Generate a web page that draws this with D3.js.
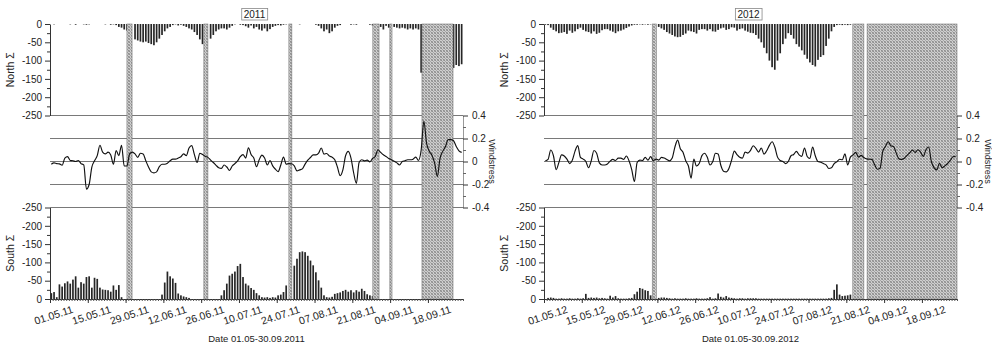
<!DOCTYPE html>
<html><head><meta charset="utf-8">
<script src="https://cdn.jsdelivr.net/npm/d3@7"></script>
<style>
body{margin:0;background:#fff}
svg{display:block}
text{font-family:"Liberation Sans",Arial,sans-serif;fill:#222}
</style>
</head><body>
<svg id="c" width="992" height="351"></svg>
<script>
// ---------------- DATA (day index 0 = 1 May, 153 days to 30 Sep) ----------------
const years = [2011, 2012];
const xTickLabels2011 = ["01.05.11","15.05.11","29.05.11","12.06.11","26.06.11","10.07.11","24.07.11","07.08.11","21.08.11","04.09.11","18.09.11"];
const xTickLabels2012 = ["01.05.12","15.05.12","29.05.12","12.06.12","26.06.12","10.07.12","24.07.12","07.08.12","21.08.12","04.09.12","18.09.12"];
const sumTicks = [0,-50,-100,-150,-200,-250];
const windTicks = [0.4,0.2,0,-0.2,-0.4];

const north2011 = [
0,-1,0,0,0,0,0,-1,0,-2,
0,0,-1,-2,-1,0,0,0,0,0,
-1,0,-2,-1,-3,-8,-10,-15,-18,null,
null,-42,-45,-48,-50,-48,-52,-55,-58,-50,
-40,-30,-20,-12,-8,-3,-1,-4,-2,-5,
-8,-12,-15,-22,-30,-42,-55,null,null,-40,
-30,-20,-15,-12,-12,-15,-10,-5,-1,0,
-2,-3,-6,-10,-4,-12,-8,-15,-18,-12,
-20,-14,-8,-5,-3,-4,-2,-1,null,null,
0,0,-1,0,0,0,0,0,-2,-5,
-12,-20,-15,-25,-20,-10,-5,-3,0,0,
0,-2,-1,-2,0,0,0,0,-2,-4,
null,null,-8,-15,-5,-10,null,-8,-10,-12,
-10,-12,-15,-12,-15,-12,-15,-133,null,null,
null,null,null,null,null,null,null,null,null,-120,
-112,-115,-110];

const south2011 = [
-16,-19,-5,-40,-34,-43,-48,-42,-53,-62,
-31,-46,-42,-60,-62,-31,-58,-55,-31,-26,
-25,-24,-20,-37,-25,-38,-5,0,0,null,
null,0,0,0,0,0,0,0,0,0,
0,-12,-45,-75,-62,-56,-44,-15,-10,-7,
-5,-3,0,0,0,0,0,null,null,0,
0,0,0,-10,-24,-42,-64,-69,-75,-90,
-96,-60,-42,-37,-30,-25,-16,-10,-5,-4,
-5,-3,-5,-4,-10,-12,-19,-37,null,null,
-91,-110,-128,-130,-128,-118,-105,-92,-73,-51,
-31,-10,-5,-4,-6,-14,-16,-18,-22,-25,
-20,-24,-18,-24,-20,-28,-22,-13,-10,-8,
null,null,0,0,0,0,null,0,0,0,
0,0,0,0,0,0,0,0,null,null,
null,null,null,null,null,null,null,null,null,0,
0,0,0];

const north2012 = [
-2,-3,-10,-16,-20,-25,-24,-22,-27,-18,
-24,-20,-14,-10,-16,-20,-22,-26,-20,-27,
-24,-17,-14,-14,-18,-21,-25,-20,-18,-15,
-11,-7,-4,-2,-2,-1,-2,-1,-2,-1,
null,null,-8,-12,-16,-22,-26,-30,-34,-36,
-35,-30,-26,-18,-20,-22,-26,-16,-14,-14,
-18,-14,-20,-21,-16,-12,-10,-16,-14,-9,
-10,-18,-14,-12,-18,-21,-24,-25,-30,-40,
-50,-65,-80,-100,-118,-125,-100,-80,-55,-40,
-25,-30,-40,-55,-62,-72,-84,-95,-105,-112,
-116,-98,-90,-85,-60,-40,-20,-8,-3,-2,
-3,-2,-3,-2,null,null,null,null,null,null,
null,null,null,null,null,null,null,null,null,null,
null,null,null,null,null,null,null,null,null,null,
null,null,null,null,null,null,null,null,null,null,
null,null,null];

const south2012 = [
0,-3,-4,-3,-1,-1,-2,-1,-1,-2,
-1,-1,-2,-1,-2,-14,-3,-4,-3,-4,
-2,-3,-2,-1,-9,-4,-8,-2,-1,-1,
-1,-2,-3,-13,-20,-30,-28,-24,-22,-10,
null,null,-3,-4,-4,-3,-2,-1,-2,-1,
-1,-1,-2,-1,-1,-1,-2,-1,-1,-1,
-2,-5,-1,-2,-15,-6,-4,-8,-4,-3,
-2,-1,-2,-2,-1,-2,-2,-2,-2,-1,
-1,-1,-1,-1,-1,-1,-1,-1,-1,-1,
-1,-1,-1,-1,-1,-1,-1,-1,-1,-1,
-1,-1,-1,-1,-1,-2,-3,-25,-40,-12,
-8,-9,-10,-12,null,null,null,null,null,null,
null,null,null,null,null,null,null,null,null,null,
null,null,null,null,null,null,null,null,null,null,
null,null,null,null,null,null,null,null,null,null,
null,null,null];

const wind2011 = [
-0.024,-0.012,-0.018,-0.021,-0.033,0.03,0.042,0.009,0.006,0,
0.009,-0.018,-0.03,-0.24,-0.2,-0.048,0.006,0.051,0.141,0.081,
0.066,0.081,0.057,-0.024,0.096,0.051,0.141,-0.039,-0.039,0.066,
0.081,0.066,0.036,0.072,0.066,0.006,-0.048,-0.09,-0.099,-0.09,
-0.045,-0.024,-0.024,-0.015,0.006,0.021,0.021,0.03,0.042,0.066,
0.051,0.117,0.138,0.06,-0.009,0.072,0.06,0.045,0.036,0.012,
-0.009,-0.033,-0.054,-0.06,-0.03,-0.048,-0.078,-0.039,-0.018,0.006,
0.042,0.06,0.03,0.12,0.06,0.03,-0.044,0.015,0.055,0.03,
-0.03,0.009,-0.038,-0.067,-0.088,-0.03,0.038,-0.023,-0.018,-0.02,
-0.038,-0.082,-0.073,-0.064,-0.023,0.012,0.035,0.058,0.058,0.073,
0.117,0.064,0.07,0.047,0.038,0.015,-0.05,-0.123,-0.073,0.05,
0.088,0.029,-0.1,-0.19,-0.009,0.015,0.006,0.012,-0.003,0.026,
0.044,0.102,0.079,0.058,0.044,0.026,0.015,0.003,-0.012,-0.03,
0,0.006,0.015,0.015,0.02,0.038,0.009,0.1,0.35,0.16,
0.09,0.055,-0.015,-0.13,0.03,0.088,0.13,0.19,0.19,0.18,
0.13,0.093,0.079];

const wind2012 = [
0.006,0.018,0.1,0.05,-0.07,-0.01,0.057,0.048,0.021,-0.018,
0.012,0.09,0.138,0.036,0.021,0,-0.054,0.006,0.096,0.072,
-0.012,-0.03,-0.03,-0.021,0.003,0.018,0.009,0.03,0.03,0.018,
0.048,0.006,-0.07,-0.174,-0.009,0.012,0.009,0.036,0.012,0.042,
0.006,0.021,0.012,0.036,0.03,0.018,0.006,0.03,0.126,0.186,
0.111,0.081,0.006,-0.039,-0.144,0.021,-0.039,-0.018,0.051,0.072,
0.036,-0.03,-0.003,0.072,0.066,-0.033,-0.084,-0.09,-0.06,0.012,
0.09,0.06,0.036,0.029,0.082,0.073,0.096,0.137,0.114,0.082,
0.117,0.064,0.093,0.14,0.172,0.126,0.038,0.009,0,-0.018,
0,0.05,0.061,0.088,0.058,0.044,0.117,0.044,0.026,0.126,
0.05,0,-0.006,-0.018,-0.029,-0.061,-0.055,-0.018,-0.003,0.02,
0.015,0.067,-0.029,0.038,0.058,0.079,0.038,0.053,0.035,0.023,
0.02,0.018,-0.029,-0.067,-0.058,0.088,0.131,0.172,0.137,0.131,
0.073,0.023,0.018,0.029,0.053,0.076,0.099,0.079,0.102,0.082,
0.044,0.102,0.126,0,-0.053,-0.073,-0.015,-0.053,-0.038,-0.018,
0.009,0.041,0.044];

// data gaps (hatched), as [start day, end day]
const gaps2011 = [[28.5,30.4],[57.0,58.5],[88.5,89.6],[119.6,121.9],[125.9,126.7],[137.8,149.3]];
const gaps2012 = [[40.1,41.6],[114.4,118.5],[119.7,153]];

// ---------------- DRAW ----------------
const DAY = 864e5;
const dayDate = (yr, d) => new Date(Date.UTC(yr, 4, 1) + d * DAY);
const parseTick = d3.utcParse("%d.%m.%y");

const svg = d3.select("#c");
const defs = svg.append("defs");
const pat = defs.append("pattern").attr("id","hatch").attr("width",3).attr("height",3)
  .attr("patternUnits","userSpaceOnUse");
pat.append("rect").attr("width",3).attr("height",3).attr("fill","#cfcfcf");
pat.append("rect").attr("x",0).attr("y",0).attr("width",1).attr("height",1).attr("fill","#8f8f8f");
pat.append("rect").attr("x",1).attr("y",1).attr("width",1).attr("height",1).attr("fill","#a5a5a5");
pat.append("rect").attr("x",2).attr("y",2).attr("width",1).attr("height",1).attr("fill","#8f8f8f");
pat.append("rect").attr("x",2).attr("y",0).attr("width",1).attr("height",1).attr("fill","#a5a5a5");
pat.append("rect").attr("x",0).attr("y",2).attr("width",1).attr("height",1).attr("fill","#a5a5a5");

const panels = [
  {year:2011, x0:50,  x1:463, wdx:26, north:north2011, south:south2011, wind:wind2011, gaps:gaps2011, ticks:xTickLabels2011},
  {year:2012, x0:544, x1:957, wdx:28, north:north2012, south:south2012, wind:wind2012, gaps:gaps2012, ticks:xTickLabels2012}
];

const yN = d3.scaleLinear().domain([0,-250]).range([24,115.5]);
const yW = d3.scaleLinear().domain([0.4,-0.4]).range([115.5,207.5]);
const yS = d3.scaleLinear().domain([-250,0]).range([207.5,299]);

function styleAxis(g){
  g.selectAll("path.domain").attr("stroke","#333");
  g.selectAll(".tick line").attr("stroke","#333");
  g.selectAll(".tick text").attr("fill","#222").style("font-family","'Liberation Sans',Arial,sans-serif").style("font-size","10px");
}

panels.forEach(p => {
  const yr = p.year;
  const x = d3.scaleUtc().domain([dayDate(yr,0), dayDate(yr,153)]).range([p.x0, p.x1]);
  const g = svg.append("g");
  const bw = 1.7;

  // grid lines of the windstress band
  g.append("g").selectAll("line").data(windTicks).join("line")
    .attr("x1", p.x0).attr("x2", p.x1)
    .attr("y1", d => yW(d)).attr("y2", d => yW(d))
    .attr("stroke", "#6a6a6a").attr("stroke-width", 0.9);

  // north bars
  const nData = p.north.map((v,i)=>({i,v})).filter(d => d.v !== null && d.v !== 0);
  g.append("g").selectAll("rect").data(nData).join("rect")
    .attr("x", d => x(dayDate(yr, d.i + 0.5)) - bw/2)
    .attr("y", yN(0))
    .attr("width", bw)
    .attr("height", d => yN(d.v) - yN(0))
    .attr("fill", "#262626");

  // south bars
  const sData = p.south.map((v,i)=>({i,v})).filter(d => d.v !== null && d.v !== 0);
  g.append("g").selectAll("rect").data(sData).join("rect")
    .attr("x", d => x(dayDate(yr, d.i + 0.5)) - bw/2)
    .attr("y", d => yS(d.v))
    .attr("width", bw)
    .attr("height", d => yS(0) - yS(d.v))
    .attr("fill", "#262626");

  // hatched gaps
  g.append("g").selectAll("rect").data(p.gaps).join("rect")
    .attr("x", d => x(dayDate(yr, d[0])))
    .attr("width", d => x(dayDate(yr, d[1])) - x(dayDate(yr, d[0])))
    .attr("y", yN(0)).attr("height", yS(0) - yN(0))
    .attr("fill","url(#hatch)").attr("stroke","#7a7a7a").attr("stroke-width",0.6);

  // windstress line (drawn over the hatching)
  const line = d3.line()
    .x((v,i) => x(dayDate(yr, i + 0.5)))
    .y(v => yW(v))
    .curve(d3.curveMonotoneX);
  g.append("path").attr("d", line(p.wind))
    .attr("fill","none").attr("stroke","#111").attr("stroke-width",1.15).attr("stroke-linejoin","round");

  // left axes
  const axN = g.append("g").attr("transform",`translate(${p.x0},0)`)
    .call(d3.axisLeft(yN).tickValues(sumTicks).tickSize(5).tickSizeOuter(0).tickPadding(3).tickFormat(d=>String(d)));
  styleAxis(axN);
  g.append("g").attr("transform",`translate(${p.x0},0)`)
    .call(d3.axisLeft(yN).tickValues([-25,-75,-125,-175,-225]).tickSize(3).tickFormat(""))
    .call(a=>{a.select(".domain").remove(); a.selectAll("line").attr("stroke","#333");});
  const axS = g.append("g").attr("transform",`translate(${p.x0},0)`)
    .call(d3.axisLeft(yS).tickValues(sumTicks).tickSize(5).tickSizeOuter(0).tickPadding(3).tickFormat(d=>String(d)));
  styleAxis(axS);
  g.append("g").attr("transform",`translate(${p.x0},0)`)
    .call(d3.axisLeft(yS).tickValues([-25,-75,-125,-175,-225]).tickSize(3).tickFormat(""))
    .call(a=>{a.select(".domain").remove(); a.selectAll("line").attr("stroke","#333");});

  // right windstress axis
  const axW = g.append("g").attr("transform",`translate(${p.x1},0)`)
    .call(d3.axisRight(yW).tickValues(windTicks).tickSize(5).tickSizeOuter(0).tickPadding(4).tickFormat(d=>String(d)));
  styleAxis(axW);
  axW.select(".domain").attr("stroke","#999");
  g.append("g").attr("transform",`translate(${p.x1},0)`)
    .call(d3.axisRight(yW).tickValues([0.3,0.1,-0.1,-0.3]).tickSize(3).tickFormat(""))
    .call(a=>{a.select(".domain").remove(); a.selectAll("line").attr("stroke","#666");});

  // bottom axis: daily minor ticks + labelled major ticks
  g.append("g").attr("transform",`translate(0,${yS(0)})`)
    .call(d3.axisBottom(x).tickValues(d3.range(0,154).map(d=>dayDate(yr,d))).tickSize(2).tickSizeOuter(0).tickFormat(""))
    .call(a=>{a.select(".domain").attr("stroke","#333"); a.selectAll("line").attr("stroke","#555");});
  const tickDates = p.ticks.map(t => parseTick(t));
  const axX = g.append("g").attr("transform",`translate(0,${yS(0)})`)
    .call(d3.axisBottom(x).tickValues(tickDates).tickSize(4).tickSizeOuter(0).tickFormat(""));
  axX.select(".domain").remove();
  axX.selectAll("line").attr("stroke","#333");
  g.append("g").selectAll("text").data(p.ticks).join("text")
    .attr("transform", t => `translate(${x(parseTick(t)) + 4},${yS(0) + 17}) rotate(-18)`)
    .attr("text-anchor","middle").attr("dominant-baseline","middle")
    .style("font-size","10.5px")
    .text(t => t);

  // titles
  const cx = (p.x0 + p.x1) / 2;
  g.append("text").attr("x", cx).attr("y", 342).attr("text-anchor","middle")
    .style("font-size","9.5px").text(`Date 01.05-30.09.${yr}`);
  g.append("text").attr("transform",`translate(${p.x0-36},${(yN(0)+yN(-250))/2}) rotate(-90)`)
    .attr("text-anchor","middle").style("font-size","10.5px").text("North Σ");
  g.append("text").attr("transform",`translate(${p.x0-36},${(yS(0)+yS(-250))/2}) rotate(-90)`)
    .attr("text-anchor","middle").style("font-size","10.5px").text("South Σ");
  g.append("text").attr("transform",`translate(${p.x1+p.wdx},${yW(0)}) rotate(90)`)
    .attr("text-anchor","middle").style("font-size","9px").text("Windstress");

  // year box
  const box = g.append("g");
  const br = box.append("rect");
  const yt = box.append("text").attr("x", cx - 2).attr("y", 17.5).attr("text-anchor","middle")
    .style("font-size","10px").text(String(yr));
  const bb = yt.node().getBBox();
  br.attr("x", bb.x - 2).attr("y", 8.5).attr("width", bb.width + 4).attr("height", 11.5)
    .attr("fill","#fff").attr("stroke","#888").attr("stroke-width",0.8);
});
</script>
</body></html>
